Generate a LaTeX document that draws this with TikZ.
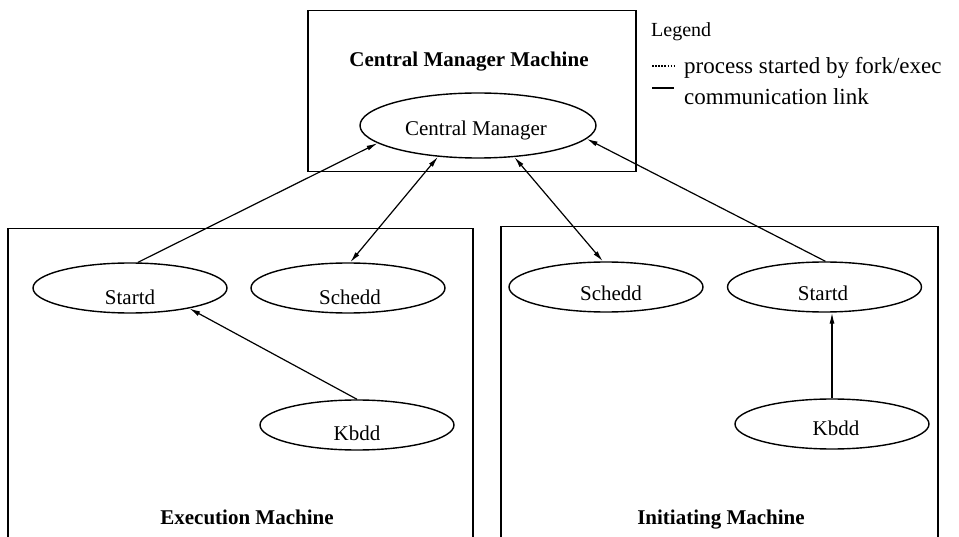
\documentclass[tikz,border=0pt]{standalone}
\usepackage{fontspec}
\setmainfont{Liberation Serif}
\usetikzlibrary{arrows.meta,shapes.geometric}
\begin{document}
\begin{tikzpicture}[x=1pt,y=-1pt,
  machine/.style={draw, rectangle, line width=1.5pt, inner sep=0pt, anchor=north west},
  daemon/.style={draw, ellipse, line width=1.4pt, inner sep=0pt, minimum width=194pt, minimum height=50pt},
  manager/.style={daemon, minimum width=236pt, minimum height=65pt},
  lbl/.style={inner sep=0pt, font=\fontsize{21}{24}\selectfont},
  ttl/.style={inner sep=0pt, font=\fontsize{21}{24}\selectfont\bfseries},
  legtxt/.style={inner sep=0pt, anchor=west, font=\fontsize{23}{27}\selectfont},
  tip/.tip={Latex[length=11pt,width=5pt]},
  link/.style={line width=1.2pt, -tip},
  duplex/.style={line width=1.2pt, tip-tip}]
\useasboundingbox (0,0) rectangle (959,537);
\clip (0,0) rectangle (959,537);

% machines
\node[machine, minimum width=328pt, minimum height=161pt] (cmm) at (307,10) {};
\node[machine, minimum width=465pt, minimum height=330pt] (exm) at (7,228) {};
\node[machine, minimum width=437pt, minimum height=330pt] (inm) at (500,226) {};

\node[ttl] (cmmt) at (469,62) {Central Manager Machine};
\node[ttl] (exmt) at (247,517) {Execution Machine};
\node[ttl] (inmt) at (721,520) {Initiating Machine};

% daemons
\node[manager] (cm) at (478,125.5) {};
\node[lbl] (cmt) at (476,130) {Central Manager};

\node[daemon] (sl) at (130,288) {};
\node[lbl] (slt) at (130,297) {Startd};
\node[daemon] (scl) at (348,288) {};
\node[lbl] (sclt) at (350,297) {Schedd};
\node[daemon] (kl) at (357,425) {};
\node[lbl] (klt) at (357,433) {Kbdd};

\node[daemon] (scr) at (606,287) {};
\node[lbl] (scrt) at (611,293) {Schedd};
\node[daemon] (sr) at (824.5,287) {};
\node[lbl] (srt) at (823,293) {Startd};
\node[daemon] (kr) at (832,424) {};
\node[lbl] (krt) at (836,428) {Kbdd};

% communication links
\draw[link] (sl.73) -- (cm.190);
\draw[duplex] (scl.85) -- (cm.218);
\draw[duplex] (cm.-41) -- (scr.97);
\draw[link] (sr.88) -- (cm.-7.5);
\draw[link] (kl.north) -- (sl.-19);
\draw[link] (kr.north) -- (kr.north |- sr.south);

% legend
\node[legtxt, font=\fontsize{20}{24}\selectfont] (leg) at (651,32) {Legend};
\coordinate (d0) at (652,66);
\coordinate (d1) at (674,66);
\coordinate (s0) at (652,88);
\coordinate (s1) at (674,88);
\draw[line width=2pt, dash pattern=on 1.5pt off 1.6pt] (d0) -- (d1);
\draw[line width=1.5pt] (s0) -- (s1);
\node[legtxt] (legd) at (684,68) {process started by fork/exec};
\node[legtxt] (legs) at (684,97) {communication link};
\end{tikzpicture}
\end{document}
